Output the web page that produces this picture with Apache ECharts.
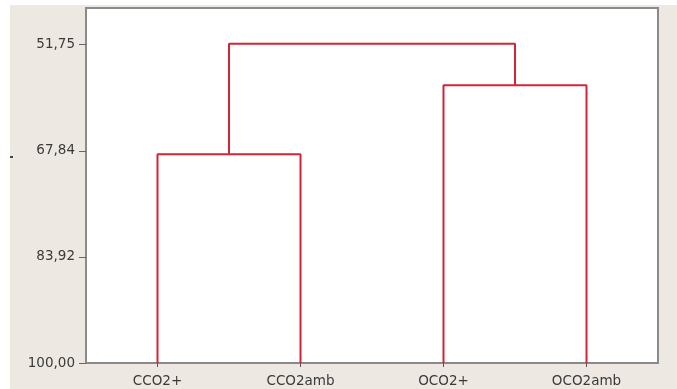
<!DOCTYPE html>
<html>
<head>
<meta charset="utf-8">
<script src="https://cdn.jsdelivr.net/npm/echarts@6/dist/echarts.min.js"></script>
<style>
html,body{margin:0;padding:0;background:#ffffff;}
#bg{position:absolute;left:10px;top:5px;width:667px;height:384px;background:#ede9e2;}
#chart{position:absolute;left:0;top:0;width:677px;height:389px;}
</style>
</head>
<body>
<div id="bg"></div>
<div id="chart"></div>
<script>
// Leaves (categories) of the dendrogram
const categories = ['CCO2+', 'CCO2amb', 'OCO2+', 'OCO2amb'];
// Merges: node ids 0..3 are leaves, 4.. are clusters created in order
const mergeA = [0, 2, 4];
const mergeB = [1, 3, 5];
const mergeHeights = [68.35, 57.9, 51.6];
const leafHeight = 100;
// Y axis ticks
const yTickValues = [51.75, 67.84, 83.92, 100];
const yTickLabels = ['51,75', '67,84', '83,92', '100,00'];

const nodeX = categories.map((c, i) => i);
const nodeH = categories.map(() => leafHeight);
const series = [];
for (let k = 0; k < mergeHeights.length; k++) {
  const a = mergeA[k], b = mergeB[k], h = mergeHeights[k];
  series.push({
    type: 'line',
    data: [[nodeX[a], nodeH[a]], [nodeX[a], h], [nodeX[b], h], [nodeX[b], nodeH[b]]],
    symbol: 'none',
    lineStyle: { color: '#d42438', width: 2 },
    silent: true,
    animation: false
  });
  nodeX.push((nodeX[a] + nodeX[b]) / 2);
  nodeH.push(h);
}

const chart = echarts.init(document.getElementById('chart'));
const font = 'DejaVu Sans';
chart.setOption({
  backgroundColor: 'transparent',
  animation: false,
  grid: {
    left: 86, right: 19, top: 8, bottom: 26,
    show: true, backgroundColor: '#ffffff',
    borderColor: '#8a8a8a', borderWidth: 2
  },
  xAxis: {
    type: 'value', min: -0.5, max: categories.length - 0.5,
    splitLine: { show: false },
    axisLine: { show: false, onZero: false },
    axisTick: { show: true, customValues: categories.map((c, i) => i), length: 4, lineStyle: { color: '#555' } },
    axisLabel: {
      customValues: categories.map((c, i) => i),
      formatter: v => categories[Math.round(v)],
      margin: 11, fontFamily: font, fontSize: 13.5, color: '#3a3a3a'
    }
  },
  yAxis: {
    type: 'value', inverse: true, min: 46.2, max: 100,
    splitLine: { show: false },
    axisLine: { show: false, onZero: false },
    axisTick: { show: true, customValues: yTickValues, length: 7, lineStyle: { color: '#666' } },
    axisLabel: {
      customValues: yTickValues,
      formatter: v => yTickLabels[yTickValues.indexOf(v)] ?? '',
      margin: 11, fontFamily: font, fontSize: 13.5, color: '#3a3a3a'
    }
  },
  graphic: [
    { type: 'rect', left: 10, top: 156, shape: { width: 3, height: 2 }, style: { fill: '#444' } }
  ],
  series: series
});
</script>
</body>
</html>
